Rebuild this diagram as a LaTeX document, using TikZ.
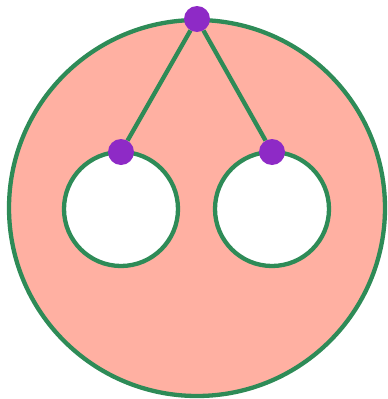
\documentclass[tikz,border=0pt]{standalone}
\usepackage{tikz}
\definecolor{DiskFill}{HTML}{FFB0A2}
\definecolor{DiskLine}{HTML}{2E8B57}
\definecolor{DiskPoint}{HTML}{8E2AC6}

\tikzset{
  pointdot/.style={circle,fill=DiskPoint,inner sep=0pt,minimum size=26pt},
  diskline/.style={DiskLine,line width=4.3pt},
}

\begin{document}
\begin{tikzpicture}[x=1pt,y=-1pt]
      \useasboundingbox (0,0) rectangle (388,399);
      \fill[DiskFill,even odd rule] (197,208) circle (188) (121,209) circle (57) (272,209) circle (57);
      \draw[diskline] (197,208) circle (188);
      \draw[diskline] (121,209) circle (57);
      \draw[diskline] (272,209) circle (57);
      \node[pointdot] (top) at (197,19) {};
      \node[pointdot] (left) at (121,152) {};
      \node[pointdot] (right) at (272,152) {};
      \draw[diskline] (top) -- (left);
      \draw[diskline] (top) -- (right);
    \end{tikzpicture}
\end{document}
